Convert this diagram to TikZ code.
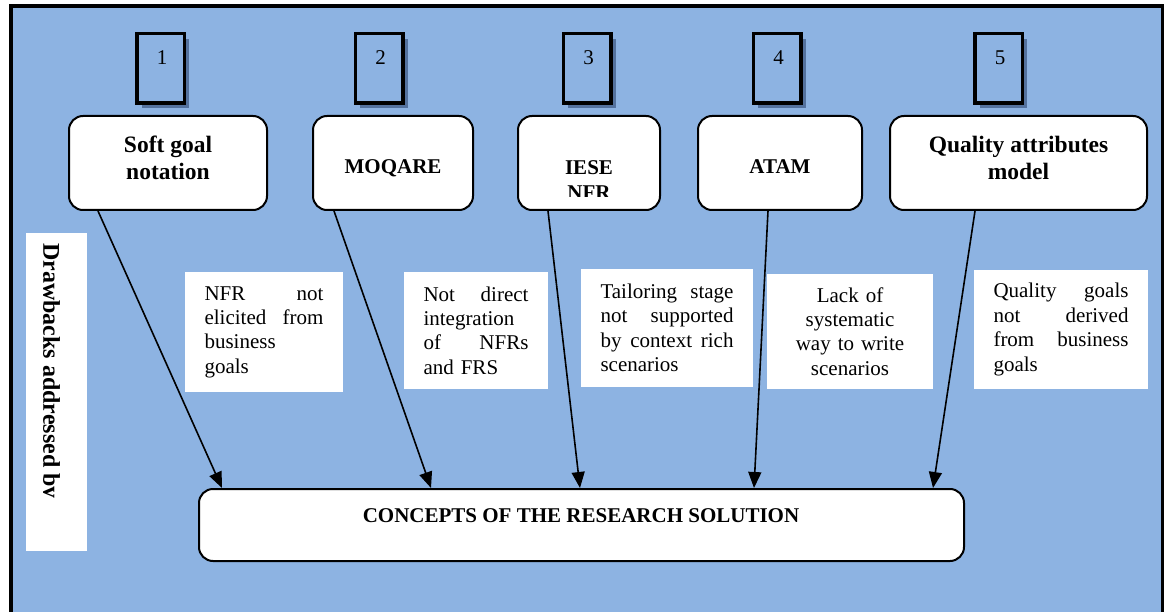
\documentclass[tikz,border=0pt]{standalone}
\usepackage{fontspec}
\setmainfont{Liberation Serif}
\usetikzlibrary{arrows.meta,shadows,calc}
\definecolor{bgblue}{RGB}{141,179,226}
\definecolor{shadowc}{RGB}{84,114,158}
\begin{document}
\begin{tikzpicture}[x=1pt,y=-1pt,
  method/.style={draw=black, line width=2pt, fill=white, rounded corners=14pt, inner sep=0pt},
  numbox/.style={draw=black, line width=3.5pt, fill=bgblue, inner sep=0pt,
    minimum width=47.5pt, minimum height=69.5pt,
    drop shadow={shadow xshift=5pt, shadow yshift=-5pt, fill=shadowc, opacity=1}},
  numtxt/.style={font=\fontsize{21}{24}\selectfont, inner sep=0pt, anchor=base},
  ttl/.style={font=\bfseries\fontsize{23.5}{27.5}\selectfont, align=center, inner sep=0pt},
  ttlb/.style={font=\bfseries\fontsize{21}{25}\selectfont, align=center, inner sep=0pt},
  desc/.style={fill=white, inner sep=0pt, font=\fontsize{21}{24.4}\selectfont, align=left},
  arr/.style={line width=1.6pt, -{Triangle[length=16pt,width=13pt]}}
]
\useasboundingbox (0,0) rectangle (1164,612);
\clip (0,0) rectangle (1164,612);
\fill[white] (0,0) rectangle (1164,612);
% frame
\fill[bgblue] (10.8,5.8) rectangle (1162.5,640);
\draw[line width=3.5pt] (10.8,640) -- (10.8,5.8) -- (1162.5,5.8) -- (1162.5,640);

% number boxes
\node[numbox] (n1) at (160.5,68.5) {};
\node[numbox] (n2) at (379,68.5) {};
\node[numbox] (n3) at (587,68.5) {};
\node[numbox] (n4) at (777,68.5) {};
\node[numbox] (n5) at (998.5,68.5) {};
\node[numtxt] (t1) at (162,65) {1};
\node[numtxt] (t2) at (380.5,65) {2};
\node[numtxt] (t3) at (588.5,65) {3};
\node[numtxt] (t4) at (778.5,65) {4};
\node[numtxt] (t5) at (1000,65) {5};

% method boxes
\node[method, minimum width=198pt, minimum height=94pt] (a) at (168,163) {};
\node[method, minimum width=160pt, minimum height=94pt] (b) at (393,163) {};
\node[method, minimum width=142pt, minimum height=94pt] (c) at (589,163) {};
\node[method, minimum width=164pt, minimum height=94pt] (d) at (780,163) {};
\node[method, minimum width=257pt, minimum height=94pt] (e) at (1018.5,163) {};

\node[ttl] (at) at (168,158) {Soft goal\\notation};
\node[ttlb, anchor=base] (bt) at (393,174) {MOQARE};
\begin{scope}
  \clip (517,115) rectangle (661,197);
  \node[ttlb, anchor=north] (ct) at (589,160) {IESE\\NFR};
\end{scope}
\node[ttlb, anchor=base] (dt) at (780,174) {ATAM};
\node[ttl] (et) at (1018.5,158) {Quality attributes\\model};

% drawback texts
\node[desc, text width=119pt, minimum width=158pt, minimum height=120pt] (d1) at (264,332)
  {NFR\hfill not\\elicited\hfill from\\business\\goals};
\node[desc, text width=105pt, minimum width=144pt, minimum height=117pt] (d2) at (476,330.5)
  {Not\hfill direct\\integration\\of\hfill NFRs\\and FRS};
\node[desc, text width=133pt, minimum width=172pt, minimum height=118pt] (d3) at (667,328)
  {Tailoring\hfill stage\\not\hfill supported\\by\hfill context\hfill rich\\scenarios};
\node[desc, align=center, text width=140pt, minimum width=166pt, minimum height=115pt] (d4) at (850,331.5)
  {Lack of\\systematic\\way to write\\scenarios};
\node[desc, text width=135pt, minimum width=174pt, minimum height=119pt] (d5) at (1061,329.5)
  {Quality\hfill goals\\not\hfill derived\\from\hfill business\\goals};

% side label
\node[fill=white, inner sep=0pt, minimum width=61pt, minimum height=318pt] (side) at (56.5,392) {};
\begin{scope}
  \clip (43,233) rectangle (87,551);
  \node[rotate=-90, anchor=base west, inner sep=0pt, font=\bfseries\fontsize{24}{28}\selectfont] (sidet) at (43.3,243) {Drawbacks addressed by};
\end{scope}

% solution box
\node[method, minimum width=765pt, minimum height=72pt] (sol) at (581.5,525) {};
\node[ttlb, anchor=base] (solt) at (581,522) {CONCEPTS OF THE RESEARCH SOLUTION};

% arrows
\draw[arr] ([xshift=30pt]a.south west) -- ([xshift=24pt]sol.north west);
\draw[arr] ([xshift=22pt]b.south west) -- ([xshift=233pt]sol.north west);
\draw[arr] ([xshift=31pt]c.south west) -- ([xshift=382pt]sol.north west);
\draw[arr] ([xshift=71pt]d.south west) -- ([xshift=556pt]sol.north west);
\draw[arr] ([xshift=86pt]e.south west) -- ([xshift=735pt]sol.north west);
\end{tikzpicture}
\end{document}
